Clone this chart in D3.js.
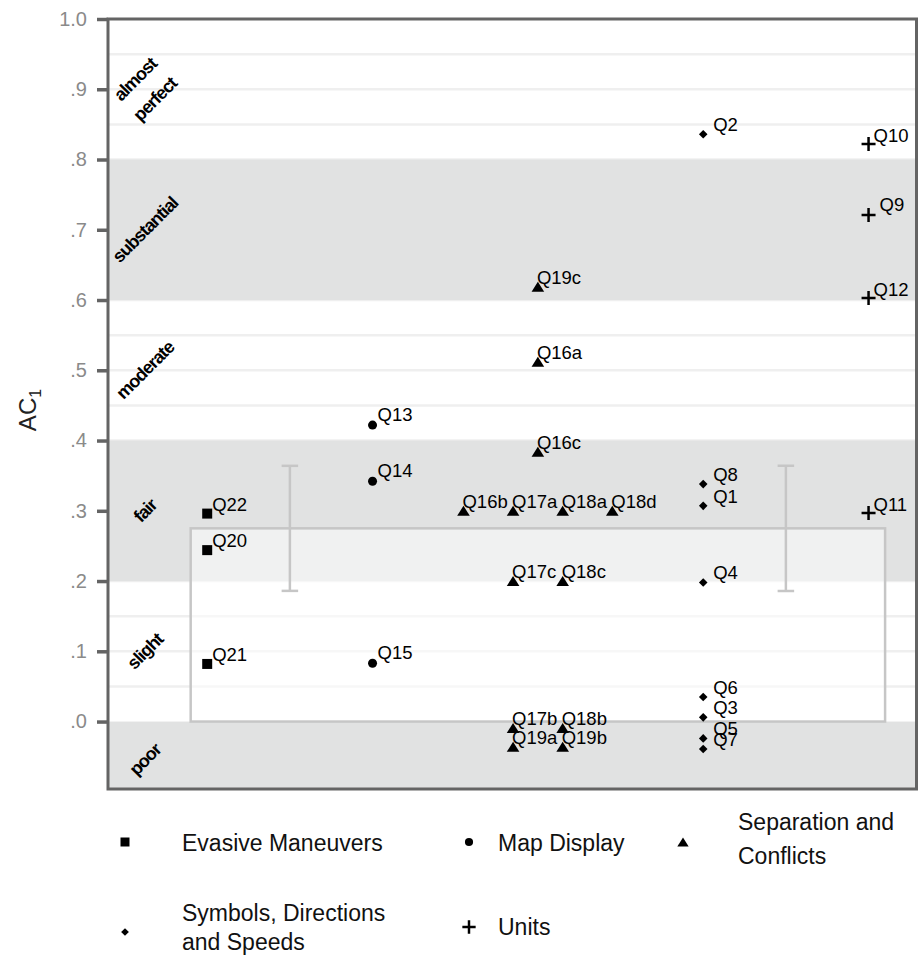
<!DOCTYPE html>
<html><head><meta charset="utf-8">
<script src="https://cdn.jsdelivr.net/npm/d3@7"></script>
<style>
body{margin:0;background:#fff}
text{font-family:"Liberation Sans",Arial,Helvetica,sans-serif}
</style>
</head><body>
<svg id="c" width="919" height="956"></svg>
<script>
// ---- data ----
const categories = ["Evasive Maneuvers", "Map Display", "Separation and Conflicts", "Symbols, Directions and Speeds", "Units"];
const evasiveLabels = ["Q22", "Q20", "Q21"];
const evasiveValues = [0.296, 0.244, 0.082];
const mapLabels = ["Q13", "Q14", "Q15"];
const mapValues = [0.422, 0.342, 0.083];
const separationLabels = ["Q19c", "Q16a", "Q16c", "Q16b", "Q17a", "Q18a", "Q18d", "Q17c", "Q18c", "Q17b", "Q18b", "Q19a", "Q19b"];
const separationValues = [0.619, 0.512, 0.384, 0.300, 0.300, 0.300, 0.300, 0.200, 0.200, -0.009, -0.009, -0.036, -0.036];
const separationSlots = [0, 0, 0, -3, -1, 1, 3, -1, 1, -1, 1, -1, 1];
const symbolsLabels = ["Q2", "Q8", "Q1", "Q4", "Q6", "Q3", "Q5", "Q7"];
const symbolsValues = [0.836, 0.338, 0.307, 0.198, 0.035, 0.006, -0.024, -0.039];
const unitsLabels = ["Q10", "Q9", "Q12", "Q11"];
const unitsValues = [0.822, 0.721, 0.603, 0.297];
const yTicks = [0, 0.1, 0.2, 0.3, 0.4, 0.5, 0.6, 0.7, 0.8, 0.9, 1.0];
const yTickLabels = [".0", ".1", ".2", ".3", ".4", ".5", ".6", ".7", ".8", ".9", "1.0"];
const gridValues = [0.05, 0.1, 0.15, 0.2, 0.25, 0.3, 0.35, 0.4, 0.45, 0.5, 0.55, 0.6, 0.65, 0.7, 0.75, 0.8, 0.85, 0.9, 0.95];
const bandNames = ["poor", "slight", "fair", "moderate", "substantial", "almost perfect"];
const bandLower = [-0.1, 0.0, 0.2, 0.4, 0.6, 0.8];
const bandUpper = [0.0, 0.2, 0.4, 0.6, 0.8, 1.0];
const bandShaded = [true, false, true, false, true, false];
const overallMean = 0.275;
const ciLower = 0.186;
const ciUpper = 0.364;

// ---- layout ----
const svg = d3.select("#c");
const L = 108, R = 916.5, T = 19, B = 789;
const x = d3.scaleLinear().domain([0.4, 5.29]).range([L, R]);
const y = d3.scaleLinear().domain([-0.096, 1.0]).range([B, T]);
const slotStep = 0.15;

const shapes = {
  square: "M-5,-5H5V5H-5Z",
  circle: d3.symbol(d3.symbolCircle, 64)(),
  triangle: "M0,-5L6.3,5L-6.3,5Z",
  diamond: "M0,-4.3L4.3,0L0,4.3L-4.3,0Z",
  plus: "M-7,0H7M0,-7V7"
};
const series = [
  {labels: evasiveLabels, values: evasiveValues, shape: "square", dx: 5, dy: -3},
  {labels: mapLabels, values: mapValues, shape: "circle", dx: 5, dy: -4},
  {labels: separationLabels, values: separationValues, shape: "triangle", dx: -1, dy: -3, slots: separationSlots},
  {labels: symbolsLabels, values: symbolsValues, shape: "diamond", dx: 10, dy: -3},
  {labels: unitsLabels, values: unitsValues, shape: "plus", dx: 5, dy: -2}
];
const labelNudge = {"Q9": [6, -2]};

const clipId = "plotclip";
svg.append("clipPath").attr("id", clipId).append("rect")
  .attr("x", L).attr("y", T).attr("width", R - L).attr("height", B - T);
const plot = svg.append("g").attr("clip-path", `url(#${clipId})`);

// gridlines
plot.selectAll("line.grid").data(gridValues).join("line")
  .attr("x1", L).attr("x2", R)
  .attr("y1", d => y(d)).attr("y2", d => y(d))
  .attr("stroke", "#efefef").attr("stroke-width", 2.5);

// bands
plot.selectAll("rect.band").data(bandLower.map((lo, i) => ({lo, hi: bandUpper[i], s: bandShaded[i]})).filter(d => d.s))
  .join("rect")
  .attr("x", L).attr("width", R - L)
  .attr("y", d => y(d.hi)).attr("height", d => y(d.lo) - y(d.hi))
  .attr("fill", "#e1e2e2");

// overall mean box
plot.append("rect")
  .attr("x", x(0.9)).attr("width", x(5.1) - x(0.9))
  .attr("y", y(overallMean)).attr("height", y(0) - y(overallMean))
  .attr("fill", "#ffffff").attr("fill-opacity", 0.5)
  .attr("stroke", "#c6c6c6").attr("stroke-width", 2.5);

// CI error bars
[1.5, 4.5].forEach(cx => {
  const g = plot.append("g").attr("stroke", "#c6c6c6").attr("stroke-width", 2.5);
  g.append("line").attr("x1", x(cx)).attr("x2", x(cx)).attr("y1", y(ciUpper)).attr("y2", y(ciLower));
  [ciUpper, ciLower].forEach(v => g.append("line")
    .attr("x1", x(cx - 0.05)).attr("x2", x(cx + 0.05)).attr("y1", y(v)).attr("y2", y(v)));
});

// band labels
const bandLabelPos = [-0.054, 0.1, 0.3, 0.5, 0.7, 0.9];
bandNames.forEach((name, i) => {
  const lines = name === "almost perfect" ? ["almost", "perfect"] : [name];
  const t = plot.append("text")
    .attr("transform", `translate(${x(0.625)},${y(bandLabelPos[i])}) rotate(-45)`)
    .attr("text-anchor", "middle")
    .attr("font-weight", "bold").attr("font-size", 18).attr("fill", "#000")
    .attr("letter-spacing", -1);
  lines.forEach((ln, j) => {
    t.append("tspan").attr("x", 0)
      .attr("dy", j === 0 ? (6 - (lines.length - 1) * 14) : 28)
      .text(ln);
  });
});

// points
series.forEach((s, si) => {
  const g = plot.append("g");
  s.labels.forEach((lab, i) => {
    const cx = x(si + 1 + (s.slots ? s.slots[i] * slotStep : 0));
    const cy = y(s.values[i]);
    const p = g.append("path").attr("d", shapes[s.shape])
      .attr("transform", `translate(${cx},${cy})`);
    if (s.shape === "plus") p.attr("fill", "none").attr("stroke", "#000").attr("stroke-width", 2.5);
    else p.attr("fill", "#000");
  });
  s.labels.forEach((lab, i) => {
    const cx = x(si + 1 + (s.slots ? s.slots[i] * slotStep : 0));
    const cy = y(s.values[i]);
    const n = labelNudge[lab] || [0, 0];
    g.append("text").attr("x", cx + s.dx + n[0]).attr("y", cy + s.dy + n[1])
      .attr("font-size", 18.5).attr("fill", "#000").text(lab);
  });
});

// frame
svg.append("rect").attr("x", L).attr("y", T).attr("width", R - L).attr("height", B - T)
  .attr("fill", "none").attr("stroke", "#646464").attr("stroke-width", 3);

// y axis
const yAxis = d3.axisLeft(y).tickValues(yTicks)
  .tickFormat((d, i) => yTickLabels[i]).tickSize(11).tickPadding(10);
const ga = svg.append("g").attr("transform", `translate(${L},0)`).call(yAxis);
ga.select(".domain").remove();
ga.selectAll(".tick line").attr("stroke", "#646464").attr("stroke-width", 3.5);
ga.selectAll(".tick text").attr("fill", "#8a8a8a").attr("font-size", 20)
  .attr("font-family", "Liberation Sans, Arial, sans-serif");

// y title
const yt = svg.append("text").attr("transform", `translate(36,410) rotate(-90)`)
  .attr("text-anchor", "middle").attr("font-size", 24).attr("fill", "#222");
yt.append("tspan").text("AC");
yt.append("tspan").attr("font-size", 16).attr("dy", 5).text("1");

// legend
const legendItems = [
  {shape: "square", lines: ["Evasive Maneuvers"], mx: 125, my: 842, tx: 182, cy: 843, lh: 34},
  {shape: "circle", lines: ["Map Display"], mx: 469, my: 842, tx: 498, cy: 843, lh: 34},
  {shape: "triangle", lines: ["Separation and", "Conflicts"], mx: 683, my: 842, tx: 738, cy: 839, lh: 34},
  {shape: "diamond", lines: ["Symbols, Directions", "and Speeds"], mx: 125, my: 932, tx: 182, cy: 927, lh: 29},
  {shape: "plus", lines: ["Units"], mx: 469, my: 927, tx: 498, cy: 927, lh: 29}
];
const leg = svg.append("g");
legendItems.forEach(it => {
  const scale = it.shape === "plus" ? 0.95 : 0.9;
  const p = leg.append("path").attr("d", shapes[it.shape])
    .attr("transform", `translate(${it.mx},${it.my}) scale(${scale})`);
  if (it.shape === "plus") p.attr("fill", "none").attr("stroke", "#000").attr("stroke-width", 2.6);
  else p.attr("fill", "#000");
  const t = leg.append("text").attr("font-size", 23).attr("fill", "#111");
  it.lines.forEach((ln, j) => {
    t.append("tspan").attr("x", it.tx)
      .attr("y", it.cy + 8 + (j - (it.lines.length - 1) / 2) * it.lh)
      .text(ln);
  });
});
</script>
</body></html>
